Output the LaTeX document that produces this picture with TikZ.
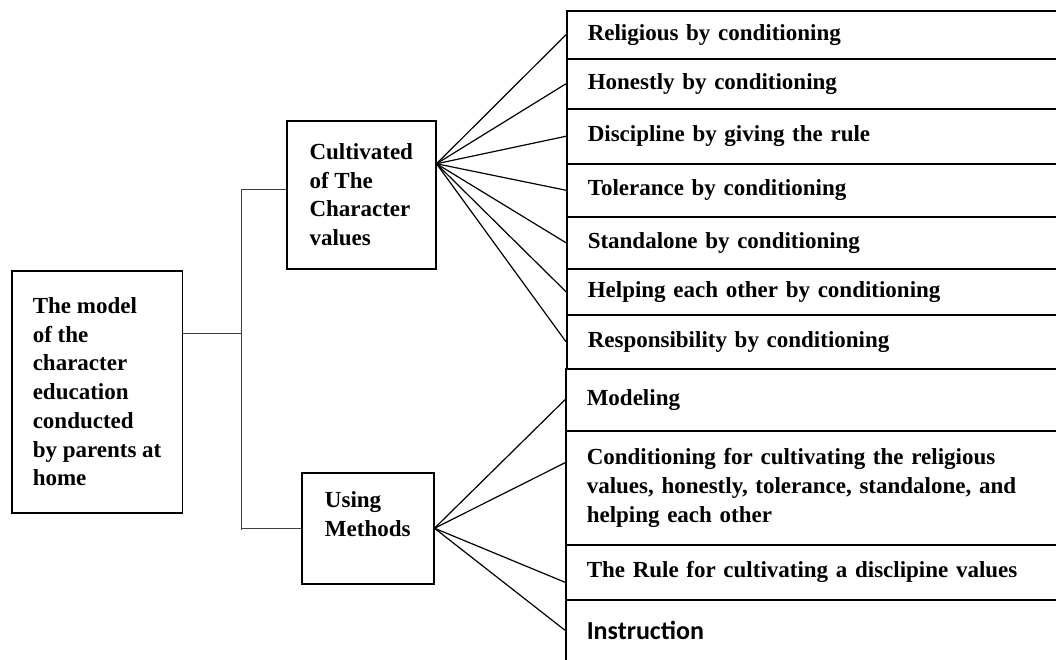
\documentclass[tikz,border=0pt]{standalone}
\usepackage{fontspec}
\setmainfont{Liberation Serif}
\newfontfamily\instrfont{Carlito}
\usetikzlibrary{positioning}

\begin{document}
\begin{tikzpicture}[x=1pt,y=-1pt,
	every node/.style={draw=black,line width=1.5pt,anchor=north west,align=left,inner xsep=21pt,inner ysep=0pt,font=\fontsize{23}{28.7}\selectfont\bfseries},
	rbox/.style={minimum width=520pt,text width=478pt},
	fan/.style={line width=1.2pt},
	trunk/.style={line width=1pt,black!75}]
		
		\useasboundingbox (0,0) rectangle (1056,659);
		\clip (0,0) rectangle (1056,659);
		
		%left boxes
		\node[minimum width=170pt,minimum height=242pt] (model) at (11,270) {The model\\of the\\character\\education\\conducted\\by parents at\\home};
		\node[minimum width=149pt,minimum height=148pt] (cult) at (286,120) {Cultivated\\of The\\Character\\values};
		\node[minimum width=132pt,minimum height=111pt] (meth) at (301,472) {Using\\Methods\\\mbox{}};
		
		%character values
		\node[rbox,minimum height=48pt] (c1) at (566,10) {Religious by conditioning};
		\node[rbox,minimum height=50pt] (c2) at (566,58) {Honestly by conditioning};
		\node[rbox,minimum height=55pt] (c3) at (566,108) {Discipline by giving the rule};
		\node[rbox,minimum height=53pt] (c4) at (566,163) {Tolerance by conditioning};
		\node[rbox,minimum height=52pt] (c5) at (566,216) {Standalone by conditioning};
		\node[rbox,minimum height=46pt] (c6) at (566,268) {Helping each other by conditioning};
		\node[rbox,minimum height=54pt] (c7) at (566,314) {Responsibility by conditioning};
		
		%methods
		\node[rbox,minimum height=62pt] (m1) at (565,368) {Modeling};
		\node[rbox,minimum height=114pt] (m2) at (565,430) {Conditioning for cultivating the religious\\values, honestly, tolerance, standalone, and\\helping each other};
		\node[rbox,minimum height=61pt,font={\instrfont\fontsize{26}{30}\selectfont\bfseries}] (m4) at (565,599) {Instruction};
		\node[rbox,minimum height=55pt] (m3) at (565,544) {The Rule for cultivating a disclipine values};
		
		%tree
		\coordinate (tt) at (241,189);
		\coordinate (tb) at (241,530);
		\coordinate (jr) at (241,333);
		\coordinate (cf) at ([yshift=31pt]cult.east);
		\coordinate (mf) at (meth.east);
		\draw[trunk] (tt) -- (tb);
		\draw[trunk] (model.east |- jr) -- (jr);
		\draw[trunk] (tt) -- (tt -| cult.west);
		\draw[trunk] (tb |- meth.west) -- (meth.west);
		
		%edges
		\draw[fan] (cf) -- (c1.west);
		\draw[fan] (cf) -- (c2.west);
		\draw[fan] (cf) -- (c3.west);
		\draw[fan] (cf) -- (c4.west);
		\draw[fan] (cf) -- (c5.west);
		\draw[fan] (cf) -- (c6.west);
		\draw[fan] (cf) -- (c7.west);
		\draw[fan] (mf) -- (m1.west);
		\draw[fan] (mf) -- ([yshift=25pt]m2.west);
		\draw[fan] (mf) -- ([yshift=-10pt]m3.west);
		\draw[fan] (mf) -- (m4.west);
		
\end{tikzpicture}
\end{document}
